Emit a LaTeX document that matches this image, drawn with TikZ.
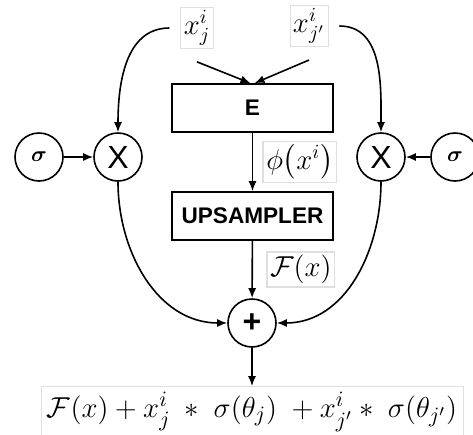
\documentclass[tikz,border=0pt]{standalone}
\usepackage{amsmath,amssymb}
\usepackage{fontspec}
\setsansfont{Liberation Sans}
\usepackage{tikz}
\usetikzlibrary{arrows.meta,positioning,calc}

\begin{document}
\begin{tikzpicture}[x=0.5pt, y=-0.5pt,
    block/.style={draw, thick, minimum width=80.5pt, minimum height=24pt,
                  font=\sffamily\bfseries\fontsize{11.3}{13}\selectfont},
    op/.style={draw, thick, circle, minimum size=24pt, inner sep=0pt},
    lbl/.style={draw=gray!25, fill=white, inner sep=1.5pt,
                font=\fontsize{14.5}{16}\selectfont},
    arr/.style={-{Latex[length=5pt,width=4pt]}, thick},
  ]
    \useasboundingbox (0,0) rectangle (473,435);

    % === Inputs ===
    \node[lbl] (xj) at (197,28) {$x_j^i$};
    \node[lbl] (xjp) at (309,26) {$x_{j'}^i$};

    % === Main branch ===
    \node[block] (enc) at (252.5,108) {E};
    \node[block] (up) at (252.5,216) {UPSAMPLER};
    \node[op, font=\sffamily\bfseries\fontsize{16}{16}\selectfont] (plus) at (252,323) {+};

    \draw[arr] ([yshift=-6.5pt]xj.south) -- ([xshift=-1pt]enc.north);
    \draw[arr] ([yshift=-6.5pt]xjp.south) -- ([xshift=1pt]enc.north);
    \draw[arr] (enc) -- (up) node[lbl, midway, right=5pt] (phi) {$\phi\bigl(x^i\bigr)$};
    \draw[arr] (up) -- (plus) node[lbl, midway, right=7pt] (fx) {$\mathcal{F}(x)$};

    % === Gates ===
    \node[op, font=\sffamily\fontsize{16}{16}\selectfont] (mull) at (118,157) {X};
    \node[op, font=\sffamily\fontsize{16}{16}\selectfont] (mulr) at (381,157) {X};
    \node[op, font=\fontsize{11}{11}\selectfont] (sigl) at (39,157) {$\boldsymbol{\sigma}$};
    \node[op, font=\fontsize{11}{11}\selectfont] (sigr) at (455,157) {$\boldsymbol{\sigma}$};

    \draw[arr] (sigl) -- (mull);
    \draw[arr] (sigr) -- (mulr);
    \draw[arr] ([xshift=-5.5pt]xj.west) to[out=180, in=90] (mull.north);
    \draw[arr] ([xshift=5.5pt]xjp.east) to[out=0, in=90] (mulr.north);
    \draw[arr] (mull.south) to[out=-90, in=180] (plus.west);
    \draw[arr] (mulr.south) to[out=-90, in=0] (plus.east);

    % === Output ===
    \node[lbl, font=\fontsize{15.6}{17}\selectfont, inner sep=3pt] (out) at (252,412)
      {$\mathcal{F}(x) + x_j^i \;*\; \sigma(\theta_j)\; + x_{j'}^i * \;\sigma(\theta_{j'})$};
    \draw[arr] (plus) -- (out);
  \end{tikzpicture}
\end{document}
